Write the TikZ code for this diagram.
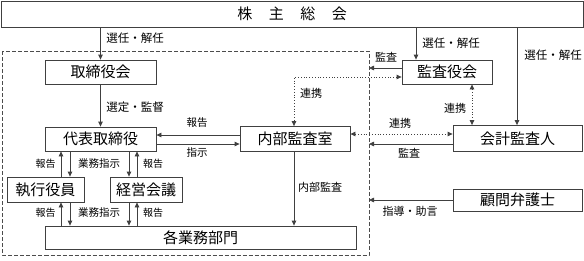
\documentclass[tikz,border=0pt]{standalone}
\usepackage{fontspec}
\setmainfont{Noto Sans CJK JP}
\usetikzlibrary{arrows.meta}
\begin{document}
\begin{tikzpicture}[x=1pt,y=-1pt,
  box/.style={draw=black!75,line width=0.8pt,inner sep=0pt,font=\fontsize{15}{17}\selectfont},
  lbl/.style={inner sep=0pt,font=\fontsize{10.5}{12}\selectfont},
  arr/.style={draw=black!75,line width=0.8pt,-{Triangle[length=5pt,width=4.5pt]}},
  darr/.style={draw=black!75,line width=0.8pt,dotted,{Triangle[length=5pt,width=4.5pt]}-{Triangle[length=5pt,width=4.5pt]}},
]
\useasboundingbox (0,0) rectangle (584,260);
\fill[white] (0,0) rectangle (584,260);
% dashed frame
\draw[black!70,line width=0.9pt,dash pattern=on 4pt off 2pt] (2.5,51) rectangle (369,255);
% nodes
\node[box,minimum width=582,minimum height=26] (kabu) at (292,14) {株\hspace{16.5pt}主\hspace{16.5pt}総\hspace{16.5pt}会};
\node[box,minimum width=111,minimum height=24] (tori) at (100.5,72) {取締役会};
\node[box,minimum width=111,minimum height=24] (daihyo) at (100.5,139) {代表取締役};
\node[box,minimum width=110,minimum height=25] (naibu) at (295,139) {内部監査室};
\node[box,minimum width=77,minimum height=25] (shikko) at (45.5,189.5) {執行役員};
\node[box,minimum width=72,minimum height=25] (keiei) at (146,189.5) {経営会議};
\node[box,minimum width=311,minimum height=23] (gyomu) at (200.5,237.5) {各業務部門};
\node[box,minimum width=90,minimum height=24] (kansa) at (447,72) {監査役会};
\node[box,minimum width=129,minimum height=26] (kaikei) at (517.5,138.5) {会計監査人};
\node[box,minimum width=129,minimum height=22] (komon) at (517.5,200) {顧問弁護士};
% helper coordinates
\coordinate (x61) at (61,0);
\coordinate (x70) at (70,0);
\coordinate (x129) at (129,0);
\coordinate (x137) at (137,0);
\coordinate (x294) at (294,0);
\coordinate (x416) at (416,0);
\coordinate (x472) at (472,0);
\coordinate (x517) at (517,0);
\coordinate (y68) at (0,68);
\coordinate (y77) at (0,77);
\coordinate (y134) at (0,134);
\coordinate (y135) at (0,135);
\coordinate (y144) at (0,144);
\coordinate (y200) at (0,200);
\coordinate (border) at (369,0);
% arrows
\draw[arr] (kabu.south -| tori) -- (tori.north);
\draw[arr] (tori) -- (daihyo);
\draw[arr] (naibu.west |- y135) -- (daihyo.east |- y135);
\draw[arr] (daihyo.east |- y144) -- (naibu.west |- y144);
\draw[arr] (shikko.north -| x61) -- (daihyo.south -| x61);
\draw[arr] (daihyo.south -| x70) -- (shikko.north -| x70);
\draw[arr] (daihyo.south -| x129) -- (keiei.north -| x129);
\draw[arr] (keiei.north -| x137) -- (daihyo.south -| x137);
\draw[arr] (gyomu.north -| x61) -- (shikko.south -| x61);
\draw[arr] (shikko.south -| x70) -- (gyomu.north -| x70);
\draw[arr] (keiei.south -| x129) -- (gyomu.north -| x129);
\draw[arr] (gyomu.north -| x137) -- (keiei.south -| x137);
\draw[arr] (naibu.south -| x294) -- (gyomu.north -| x294);
\draw[arr] (kabu.south -| x416) -- (kansa.north -| x416);
\draw[arr] (kansa.west |- y68) -- (border |- y68);
\draw[darr] (kansa.west |- y77) -- (x294 |- y77) -- (naibu.north -| x294);
\draw[arr] (kabu.south -| x517) -- (kaikei.north -| x517);
\draw[darr] (kansa.south -| x472) -- (kaikei.north -| x472);
\draw[darr] (naibu.east |- y134) -- (kaikei.west |- y134);
\draw[arr] (kaikei.west |- y144) -- (border |- y144);
\draw[arr] (komon.west |- y200) -- (border |- y200);
% labels
\node[lbl,font=\fontsize{11.5}{13}\selectfont] (l1) at (135,38) {選任・解任};
\node[lbl,font=\fontsize{11.5}{13}\selectfont] (l2) at (135,107) {選定・監督};
\node[lbl] (l3) at (197,123) {報告};
\node[lbl] (l4) at (197,153) {指示};
\node[lbl,font=\fontsize{10}{12}\selectfont] (l5) at (45.5,164) {報告};
\node[lbl] (l6) at (99,164) {業務指示};
\node[lbl,font=\fontsize{10}{12}\selectfont] (l7) at (153,164) {報告};
\node[lbl,font=\fontsize{10}{12}\selectfont] (l8) at (45.5,213) {報告};
\node[lbl] (l9) at (99,213) {業務指示};
\node[lbl,font=\fontsize{10}{12}\selectfont] (l10) at (153,213) {報告};
\node[lbl,font=\fontsize{11}{13}\selectfont] (l11) at (320,187) {内部監査};
\node[lbl,font=\fontsize{11.5}{13}\selectfont] (l12) at (451,43) {選任・解任};
\node[lbl,font=\fontsize{11.5}{13}\selectfont] (l13) at (553,55) {選任・解任};
\node[lbl,font=\fontsize{11}{13}\selectfont] (l14) at (386,57) {監査};
\node[lbl,font=\fontsize{11}{13}\selectfont] (l15) at (311,93) {連携};
\node[lbl,font=\fontsize{11}{13}\selectfont] (l16) at (455,108) {連携};
\node[lbl,font=\fontsize{11}{13}\selectfont] (l17) at (400,123) {連携};
\node[lbl,font=\fontsize{11}{13}\selectfont] (l18) at (409,153) {監査};
\node[lbl,font=\fontsize{11}{13}\selectfont] (l19) at (410,211) {指導・助言};
\end{tikzpicture}
\end{document}
